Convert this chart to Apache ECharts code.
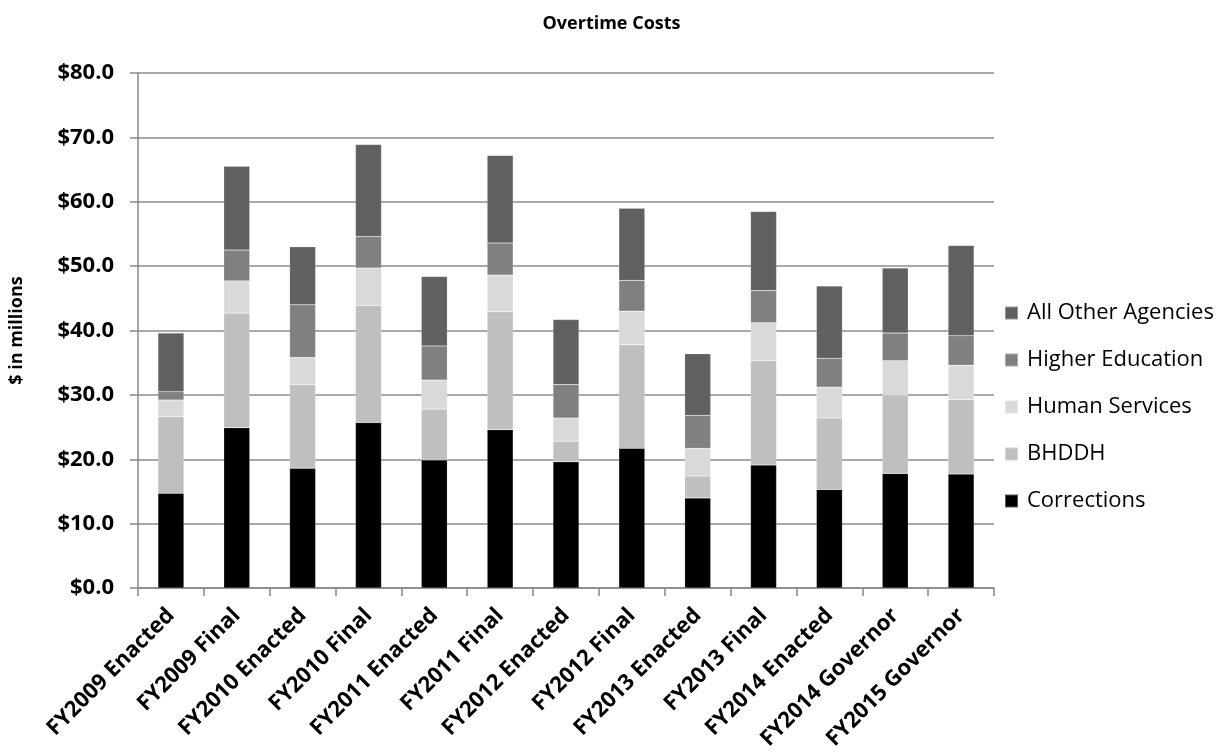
<!DOCTYPE html>
<html>
<head>
<meta charset="utf-8">
<script src="https://cdn.jsdelivr.net/npm/echarts@6/dist/echarts.min.js"></script>
<style>
  html, body { margin: 0; padding: 0; background: #fff; }
  #chart { width: 1223px; height: 752px; }
</style>
</head>
<body>
<div id="chart"></div>
<script>
// Overtime costs by budget stage, $ in millions
const categories = [
  'FY2009 Enacted', 'FY2009 Final', 'FY2010 Enacted', 'FY2010 Final',
  'FY2011 Enacted', 'FY2011 Final', 'FY2012 Enacted', 'FY2012 Final',
  'FY2013 Enacted', 'FY2013 Final', 'FY2014 Enacted', 'FY2014 Governor',
  'FY2015 Governor'
];
const corrections     = [14.7, 24.9, 18.6, 25.7, 19.9, 24.6, 19.6, 21.7, 14.0, 19.1, 15.3, 17.8, 17.7];
const bhddh           = [11.9, 17.8, 13.0, 18.2,  7.9, 18.3,  3.2, 16.1,  3.4, 16.2, 11.1, 12.1, 11.6];
const humanServices   = [ 2.6,  5.0,  4.2,  5.8,  4.5,  5.7,  3.6,  5.2,  4.3,  5.9,  4.8,  5.4,  5.3];
const higherEducation = [ 1.3,  4.8,  8.2,  4.9,  5.3,  5.0,  5.2,  4.8,  5.1,  5.0,  4.5,  4.3,  4.6];
const allOther        = [ 9.1, 13.0,  9.0, 14.3, 10.8, 13.6, 10.1, 11.2,  9.6, 12.3, 11.2, 10.1, 14.0];
const yTicks = [0, 10, 20, 30, 40, 50, 60, 70, 80];

const FONT = '"Open Sans", "Liberation Sans", sans-serif';

const seriesDefs = [
  { name: 'Corrections',        data: corrections,     color: '#000000' },
  { name: 'BHDDH',              data: bhddh,           color: '#bfbfbf' },
  { name: 'Human Services',     data: humanServices,   color: '#d9d9d9' },
  { name: 'Higher Education',   data: higherEducation, color: '#808080' },
  { name: 'All Other Agencies', data: allOther,        color: '#606060' }
];

const chart = echarts.init(document.getElementById('chart'), null, { renderer: 'canvas' });

chart.setOption({
  animation: false,
  backgroundColor: '#ffffff',
  title: {
    text: 'Overtime Costs',
    left: 'center',
    top: 10,
    textStyle: { fontFamily: FONT, fontSize: 18, fontWeight: 'bold', color: '#000' }
  },
  legend: {
    orient: 'vertical',
    left: 1004,
    top: 302,
    padding: 0,
    icon: 'rect',
    itemWidth: 13,
    itemHeight: 13,
    itemGap: 25,
    data: ['All Other Agencies', 'Higher Education', 'Human Services', 'BHDDH', 'Corrections'],
    textStyle: { fontFamily: FONT, fontSize: 22, color: '#000', padding: [0, 0, 0, 4] }
  },
  grid: { left: 138, right: 229, top: 73, bottom: 164, outerBoundsMode: 'none' },
  xAxis: {
    type: 'category',
    data: categories,
    axisLine: { lineStyle: { color: '#888', width: 1.5 } },
    axisTick: { show: true, alignWithLabel: false, length: 8, lineStyle: { color: '#888', width: 1.5 } },
    axisLabel: {
      rotate: 45,
      interval: 0,
      margin: 24,
      fontFamily: FONT,
      fontSize: 22,
      fontWeight: 'bold',
      color: '#000'
    }
  },
  yAxis: {
    type: 'value',
    min: yTicks[0],
    max: yTicks[yTicks.length - 1],
    interval: 10,
    name: '$ in millions',
    nameLocation: 'middle',
    nameGap: 112,
    nameRotate: 90,
    nameTextStyle: { fontFamily: FONT, fontSize: 18, fontWeight: 'bold', color: '#000' },
    axisLine: { show: true, lineStyle: { color: '#888', width: 1.5 } },
    axisTick: { show: true, length: 8, lineStyle: { color: '#888', width: 1.5 } },
    splitLine: { lineStyle: { color: '#8c8c8c', width: 1.5 } },
    axisLabel: {
      margin: 24,
      fontFamily: FONT,
      fontSize: 22,
      fontWeight: 'bold',
      color: '#000',
      formatter: v => '$' + v.toFixed(1)
    }
  },
  series: seriesDefs.map(s => ({
    name: s.name,
    type: 'bar',
    stack: 'total',
    barWidth: 26,
    data: s.data,
    itemStyle: { color: s.color, borderColor: 'rgba(255,255,255,0.35)', borderWidth: 0.5 }
  }))
});
</script>
</body>
</html>
